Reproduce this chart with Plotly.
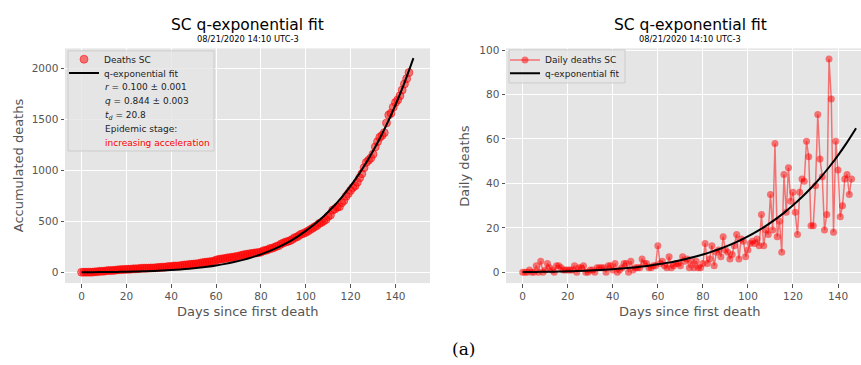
import plotly.graph_objects as go

W, H = 861, 365

# ---------------- data ----------------
daily_deaths = [0, 0, 0, 1, 0, 0, 3, 0, 5, 0,
                1, 4, 2, 1, 0, 3, 3, 2, 1, 1,
                1, 1, 1, 3, 0, 2, 2, 3, 0, 0,
                1, 1, 0, 2, 2, 2, 2, 0, 3, 3,
                1, 4, 0, 1, 2, 4, 4, 0, 5, 1,
                2, 2, 2, 6, 4, 4, 2, 2, 3, 3,
                12, 4, 5, 3, 2, 7, 2, 3, 4, 4,
                3, 7, 5, 6, 2, 5, 2, 5, 2, 2,
                4, 13, 4, 6, 12, 3, 9, 10, 7, 16,
                10, 9, 6, 8, 12, 17, 6, 15, 14, 7,
                10, 13, 14, 13, 15, 12, 26, 12, 19, 17,
                35, 19, 58, 16, 23, 9, 44, 27, 47, 32,
                36, 27, 17, 36, 42, 41, 59, 52, 21, 21,
                39, 71, 51, 43, 19, 26, 96, 78, 18, 59,
                46, 25, 30, 42, 44, 35, 42]

accumulated_deaths = [1, 1, 1, 2, 2, 2, 5, 5, 10, 10,
                      11, 15, 17, 18, 18, 21, 24, 26, 27, 28,
                      29, 30, 31, 34, 34, 36, 38, 41, 41, 41,
                      42, 43, 43, 45, 47, 49, 51, 51, 54, 57,
                      58, 62, 62, 63, 65, 69, 73, 73, 78, 79,
                      81, 83, 85, 91, 95, 99, 101, 103, 106, 109,
                      121, 125, 130, 133, 135, 142, 144, 147, 151, 155,
                      158, 165, 170, 176, 178, 183, 185, 190, 192, 194,
                      198, 211, 215, 221, 233, 236, 245, 255, 262, 278,
                      288, 297, 303, 311, 323, 340, 346, 361, 375, 382,
                      392, 405, 419, 432, 447, 459, 480, 489, 504, 518,
                      548, 562, 610, 621, 639, 643, 682, 704, 746, 773,
                      804, 831, 848, 884, 926, 967, 1026, 1078, 1099, 1120,
                      1159, 1230, 1281, 1324, 1343, 1369, 1465, 1543, 1561, 1620,
                      1666, 1691, 1731, 1788, 1847, 1899, 1959]

fit_days = [0, 4, 8, 12, 16, 20, 24, 28, 32, 36, 40, 44, 48, 52, 56, 60, 64, 68, 72,
            76, 80, 84, 88, 92, 96, 100, 104, 108, 112, 116, 120, 124, 128, 132, 136,
            140, 144, 148]
fit_accumulated = [0.98, 1.44, 2.08, 2.94, 4.09, 5.59, 7.53, 10.0, 13.1, 17.1, 21.9,
                   27.9, 35.2, 44.1, 54.9, 67.6, 82.9, 101, 122, 147, 176, 210, 249,
                   294, 346, 406, 473, 550, 638, 736, 848, 973, 1113, 1270, 1446,
                   1641, 1858, 2100]
fit_daily = [0.10, 0.14, 0.19, 0.25, 0.33, 0.43, 0.56, 0.71, 0.89, 1.12, 1.38, 1.69,
             2.06, 2.49, 2.99, 3.57, 4.23, 5.00, 5.88, 6.87, 8.00, 9.28, 10.72, 12.33,
             14.14, 16.16, 18.42, 20.91, 23.68, 26.73, 30.12, 33.84, 37.91, 42.38,
             47.27, 52.62, 58.45, 64.81]

x_ticks = [0, 20, 40, 60, 80, 100, 120, 140]
acc_ticks = [0, 500, 1000, 1500, 2000]
daily_ticks = [0, 20, 40, 60, 80, 100]

days = list(range(len(daily_deaths)))

title_text = "SC q-exponential fit"
subtitle_text = "08/21/2020 14:10 UTC-3"
legend_lines = ["<i>r</i> = 0.100 ± 0.001",
                "<i>q</i> = 0.844 ± 0.003",
                "<i>t</i><sub><i>d</i></sub> = 20.8",
                "Epidemic stage:",
                "<span style='color:#ff0000'>increasing acceleration</span>"]

# ---------------- helpers ----------------
def px(x):
    return x / W


def py(y):
    return 1 - y / H


FONT = "DejaVu Sans"
RED_A = "rgba(255,0,0,0.5)"
GREY = "#555555"

fig = go.Figure()

fig.add_trace(go.Scatter(
    x=days, y=accumulated_deaths, mode="markers", name="Deaths SC",
    marker=dict(size=8, color=RED_A, line=dict(color=RED_A, width=1)),
    xaxis="x", yaxis="y", legend="legend"))
fig.add_trace(go.Scatter(
    x=fit_days, y=fit_accumulated, mode="lines", name="q-exponential fit",
    line=dict(color="black", width=2, shape="spline"),
    xaxis="x", yaxis="y", legend="legend3"))
fig.add_trace(go.Scatter(
    x=days, y=daily_deaths, mode="lines+markers", name="Daily deaths SC",
    line=dict(color=RED_A, width=1.5),
    marker=dict(size=7, color=RED_A),
    xaxis="x2", yaxis="y2", legend="legend2"))
fig.add_trace(go.Scatter(
    x=fit_days, y=fit_daily, mode="lines", name="q-exponential fit",
    line=dict(color="black", width=2, shape="spline"),
    xaxis="x2", yaxis="y2", legend="legend4"))

axis_common = dict(
    showgrid=True, gridcolor="white", gridwidth=1, zeroline=False, showline=False,
    ticks="outside", ticklen=3.5, tickwidth=1, tickcolor=GREY,
    tickfont=dict(family=FONT, size=10.5, color=GREY), fixedrange=True,
)

y_dom = [py(282), py(44)]

legend_common = dict(
    bgcolor="rgba(0,0,0,0)", borderwidth=0,
    font=dict(family=FONT, size=9, color="#222222"),
    xanchor="left", yanchor="middle",
)

fig.update_layout(
    width=W, height=H, autosize=False,
    margin=dict(l=0, r=0, t=0, b=0),
    paper_bgcolor="white", plot_bgcolor="#E5E5E5",
    xaxis=dict(domain=[px(65), px(430)], range=[-7.4, 155.4], tickvals=x_ticks,
               anchor="y", **axis_common),
    yaxis=dict(domain=y_dom, range=[-106, 2196], tickvals=acc_ticks,
               anchor="x", **axis_common),
    xaxis2=dict(domain=[px(506), 1.0], range=[-7.42, 150.2], tickvals=x_ticks,
                anchor="y2", **axis_common),
    yaxis2=dict(domain=y_dom, range=[-4.88, 100.75], tickvals=daily_ticks,
                anchor="x2", **axis_common),
    showlegend=True,
    legend=dict(x=px(64), y=py(55), **legend_common),
    legend3=dict(x=px(64), y=py(69), **legend_common),
    legend2=dict(x=px(505), y=py(55.7), **legend_common),
    legend4=dict(x=px(505), y=py(69.3), **legend_common),
)

# legend frames
fig.add_shape(type="rect", xref="paper", yref="paper",
              x0=px(68), x1=px(214), y0=py(148), y1=py(46.5),
              fillcolor="rgba(229,229,229,0.8)", line=dict(color="#cccccc", width=1),
              layer="above")
fig.add_shape(type="rect", xref="paper", yref="paper",
              x0=px(509), x1=px(625), y0=py(79), y1=py(45.5),
              fillcolor="rgba(229,229,229,0.8)", line=dict(color="#cccccc", width=1),
              layer="above")

ann = []
# titles
for cx in (247.5, 690):
    ann.append(dict(text=title_text, x=px(cx), y=py(20.7), xref="paper", yref="paper",
                    showarrow=False, xanchor="center", yanchor="middle",
                    font=dict(family=FONT, size=15.5, color="black")))
    ann.append(dict(text=subtitle_text, x=px(cx), y=py(34.7), xref="paper", yref="paper",
                    showarrow=False, xanchor="center", yanchor="middle",
                    font=dict(family=FONT, size=8.3, color="black")))
    ann.append(dict(text="Days since first death", x=px(cx), y=py(311), xref="paper",
                    yref="paper", showarrow=False, xanchor="center", yanchor="middle",
                    font=dict(family=FONT, size=13, color=GREY)))
# y titles
ann.append(dict(text="Accumulated deaths", x=px(18.5), y=py(163), xref="paper", yref="paper",
                showarrow=False, xanchor="center", yanchor="middle", textangle=-90,
                font=dict(family=FONT, size=13, color=GREY)))
ann.append(dict(text="Daily deaths", x=px(465), y=py(163), xref="paper", yref="paper",
                showarrow=False, xanchor="center", yanchor="middle", textangle=-90,
                font=dict(family=FONT, size=13, color=GREY)))
# legend extra lines
for i, t in enumerate(legend_lines):
    ann.append(dict(text=t, x=px(103), y=py(83 + i * 14.3), xref="paper", yref="paper",
                    showarrow=False, xanchor="left", yanchor="middle",
                    font=dict(family=FONT, size=9, color="#222222")))
# panel label
ann.append(dict(text="(a)", x=px(463), y=py(349), xref="paper", yref="paper",
                showarrow=False, xanchor="center", yanchor="middle",
                font=dict(family="DejaVu Serif", size=17, color="black")))

fig.update_layout(annotations=ann)

fig.write_html("out.html")
